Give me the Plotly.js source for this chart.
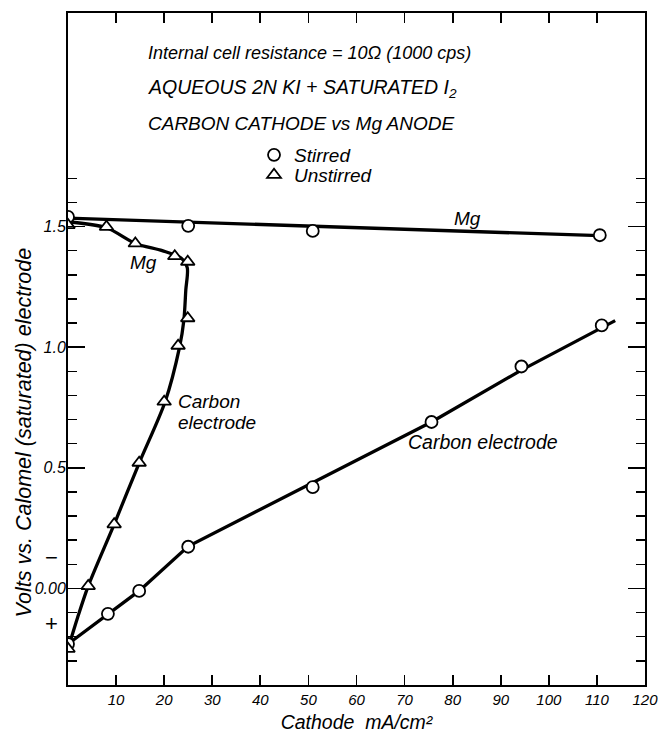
<!DOCTYPE html>
<html>
<head>
<meta charset="utf-8">
<script src="https://cdn.plot.ly/plotly-3.0.1.min.js"></script>
<style>
  html, body { margin: 0; padding: 0; background: #fff; }
  #chart { width: 658px; height: 735px; }
</style>
</head>
<body>
<div id="chart"></div>
<script>
// Cathode current density, mA/cm^2, and potential vs. saturated calomel, volts

// Stirred electrolyte (circles)
const stirredCarbonX = [0, 8.3, 14.8, 25, 50.9, 75.6, 94.3, 111];
const stirredCarbonV = [-0.23, -0.105, -0.01, 0.173, 0.42, 0.69, 0.92, 1.09];
const stirredMgX = [0, 25, 50.9, 110.6];
const stirredMgV = [1.54, 1.503, 1.482, 1.464];

// Unstirred electrolyte (triangles)
const unstirredX = [0, 8, 14, 22.2, 24.9, 24.9, 22.9, 20, 14.8, 9.6, 4.2, 0];
const unstirredV = [1.506, 1.499, 1.43, 1.377, 1.354, 1.12, 1.006, 0.774, 0.521, 0.266, 0.01, -0.25];

// Faired curves drawn through the measurements
const stirredCarbonCurveX = [0, 8.3, 14.8, 25, 44, 75.6, 94.3, 113.8];
const stirredCarbonCurveV = [-0.23, -0.105, -0.01, 0.175, 0.367, 0.69, 0.905, 1.11];
const stirredMgCurveX = [0, 110.6];
const stirredMgCurveV = [1.535, 1.462];
const unstirredCurveX = [0, 2, 4.2, 9.6, 14.8, 20.2, 23.2, 24.1, 24.5, 24.8, 23.5, 19.6, 14, 8, 0];
const unstirredCurveV = [-0.25, -0.12, 0.01, 0.266, 0.52, 0.774, 1.0, 1.112, 1.237, 1.33, 1.37, 1.40, 1.43, 1.495, 1.52];

// Axis ticks
const xTickVals = [10, 20, 30, 40, 50, 60, 70, 80, 90, 100, 110, 120];
const xTickText = ['10', '20', '30', '40', '50', '60', '70', '80', '90', '100', '110', '120'];
const yTickVals = [0, 0.5, 1.0, 1.5];
const yTickText = ['0.00', '0.5', '1.0', '1.5'];
const yMinorVals = [-0.3, -0.2, -0.1, 0.1, 0.2, 0.3, 0.4, 0.6, 0.7, 0.8, 0.9, 1.1, 1.2, 1.3, 1.4, 1.6, 1.7];

const FONT = 'Liberation Sans, Arial, sans-serif';
const ink = '#000';

const curveLine = { color: ink, width: 3.3 };
const circleMarker = { symbol: 'circle', size: 12, color: '#fff', line: { color: ink, width: 1.8 } };
const triMarker = { symbol: 'triangle-up', size: 12, color: '#fff', line: { color: ink, width: 1.8 } };

const traces = [
  { x: stirredCarbonCurveX, y: stirredCarbonCurveV, mode: 'lines', line: curveLine, showlegend: false, hoverinfo: 'skip' },
  { x: stirredMgCurveX, y: stirredMgCurveV, mode: 'lines', line: curveLine, showlegend: false, hoverinfo: 'skip' },
  { x: unstirredCurveX, y: unstirredCurveV, mode: 'lines', line: Object.assign({ shape: 'spline', smoothing: 0.8 }, curveLine), showlegend: false, hoverinfo: 'skip' },
  { x: stirredCarbonX, y: stirredCarbonV, mode: 'markers', marker: circleMarker, name: 'Stirred', legend: 'legend', showlegend: true },
  { x: stirredMgX, y: stirredMgV, mode: 'markers', marker: circleMarker, name: 'Stirred', showlegend: false },
  { x: unstirredX, y: unstirredV, mode: 'markers', marker: triMarker, name: 'Unstirred', legend: 'legend2', showlegend: true }
];

function note(text, x, y, size, extra) {
  return Object.assign({
    text: text, x: x, y: y, xref: 'x', yref: 'y', showarrow: false,
    xanchor: 'left', yanchor: 'middle',
    font: { family: FONT, size: size, color: ink, style: 'italic' }
  }, extra || {});
}

const signFont = { family: FONT, size: 22, color: ink };

const annotations = [
  note('Internal cell resistance = 10Ω (1000 cps)', 16.2, 2.218, 18),
  note('AQUEOUS 2N KI + SATURATED I<sub>2</sub>', 16.2, 2.073, 19.5),
  note('CARBON CATHODE vs Mg ANODE', 16.2, 1.928, 19),
  note('Mg', 83, 1.535, 19, { xanchor: 'center' }),
  note('Mg', 15.8, 1.353, 19, { xanchor: 'center' }),
  note('Carbon', 22.5, 0.776, 19),
  note('electrode', 22.5, 0.686, 19),
  note('Carbon electrode', 86.3, 0.607, 19.5, { xanchor: 'center' }),
  note('−', -0.028, 0.13, 22, { xref: 'paper', xanchor: 'center', font: signFont }),
  note('+', -0.028, -0.147, 22, { xref: 'paper', xanchor: 'center', font: signFont }),
  note('Volts vs. Calomel (saturated) electrode', -0.076, 0.376, 21.5,
       { xref: 'paper', yref: 'paper', xanchor: 'center', textangle: -90 })
];

const legendBase = {
  xanchor: 'left', yanchor: 'middle',
  bgcolor: 'rgba(0,0,0,0)', borderwidth: 0,
  font: { family: FONT, size: 19, color: ink, style: 'italic' },
  itemwidth: 30
};

const layout = {
  width: 658,
  height: 735,
  margin: { l: 68, r: 13, t: 13, b: 50 },
  paper_bgcolor: '#fff',
  plot_bgcolor: '#fff',
  font: { family: FONT, color: ink },
  showlegend: true,
  legend: Object.assign({ x: 0.3224, y: 0.7887 }, legendBase),
  legend2: Object.assign({ x: 0.3224, y: 0.759 }, legendBase),
  xaxis: {
    range: [0, 120],
    showgrid: false, zeroline: false,
    showline: true, linecolor: ink, linewidth: 2, mirror: 'ticks',
    ticks: 'inside', ticklen: 10, tickwidth: 1.8, tickcolor: ink,
    tickmode: 'array', tickvals: xTickVals, ticktext: xTickText,
    ticklabeloverflow: 'allow',
    tickfont: { family: FONT, size: 15, color: ink, style: 'italic' },
    title: { text: 'Cathode  mA/cm²', standoff: 8, font: { family: FONT, size: 19.5, color: ink, style: 'italic' } }
  },
  yaxis: {
    range: [-0.40, 2.385],
    showgrid: false, zeroline: false,
    showline: true, linecolor: ink, linewidth: 2, mirror: 'ticks',
    ticks: 'inside', ticklen: 17, tickwidth: 1.8, tickcolor: ink,
    tickmode: 'array', tickvals: yTickVals, ticktext: yTickText,
    ticklabelstandoff: -3,
    tickfont: { family: FONT, size: 16, color: ink, style: 'italic' },
    minor: { tickmode: 'array', tickvals: yMinorVals, ticks: 'inside', ticklen: 9, tickwidth: 1.5, tickcolor: ink, showgrid: false }
  },
  annotations: annotations
};

Plotly.newPlot('chart', traces, layout, { staticPlot: true, displayModeBar: false });
</script>
</body>
</html>
